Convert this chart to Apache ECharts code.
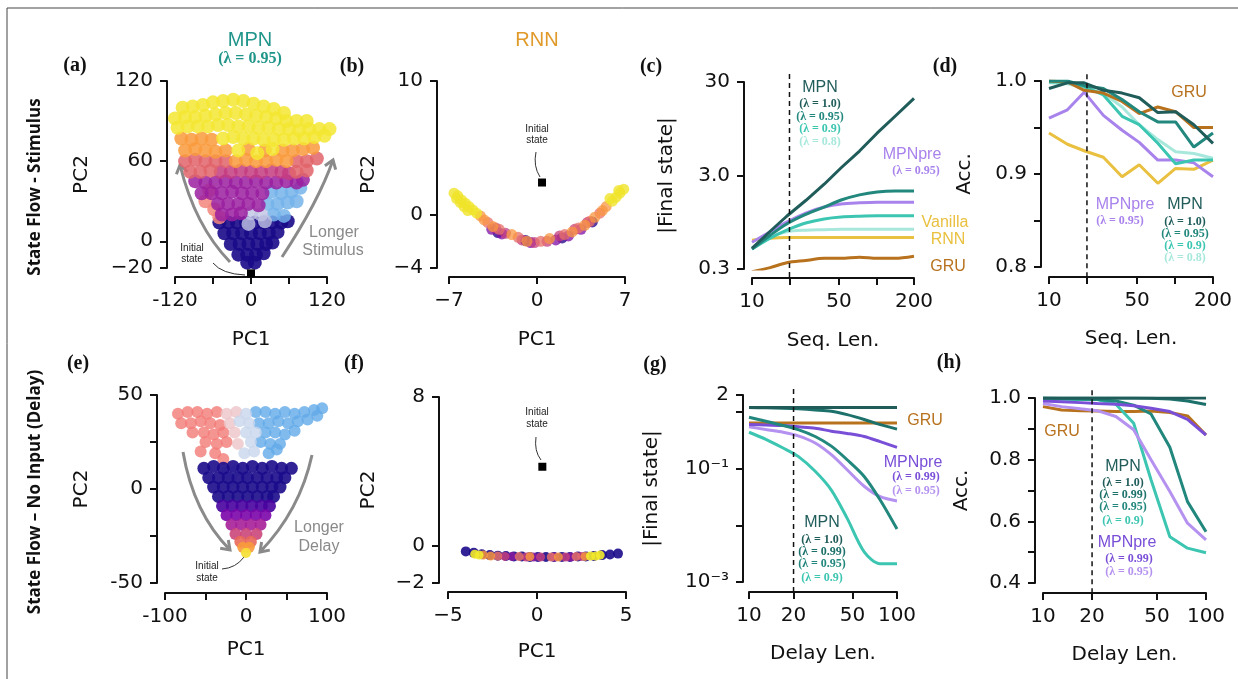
<!DOCTYPE html>
<html>
<head>
<meta charset="utf-8">
<script src="https://cdn.jsdelivr.net/npm/echarts@6/dist/echarts.min.js"></script>
<style>
  html, body { margin: 0; background: #fff; }
  #chart { width: 1238px; height: 679px; }
</style>
</head>
<body>
<div id="chart"></div>
<script>
// *data: (a) MPN state flow with stimulus, points grouped by colour band
const aNavy = [[-50,14],[-36,14],[-22,14],[-8,14],[6,14],[20,14],[34,14],[48,14],[58,15],
  [-42,6],[-28,6],[-14,6],[0,6],[14,6],[28,6],[42,7],
  [-32,-2],[-18,-2],[-4,-2],[10,-2],[24,-2],[34,-1],
  [-20,-10],[-6,-10],[8,-10],[20,-9],[-6,-16],[6,-16]];
const aBlue = [[32,37],[48,36],[64,37],[78,40],[26,28],[42,28],[58,29],[72,30],[36,20],[52,19]];
const aPale = [[0,21],[16,20],[-4,13],[22,15]];
const aSalmon = [[-72,30],[-58,24],[-50,18],[-66,38]];
const aPurple = [[-88,45],[-72,44],[-56,44],[-40,45],[-24,44],[-8,44],[8,45],[24,44],[40,44],[56,45],[72,44],[82,46],
  [-78,36],[-62,36],[-46,36],[-30,37],[-14,36],[2,36],[18,36],
  [-52,28],[-36,28],[-20,28],[-4,28],[12,27],[-46,20],[-30,20],[-16,21]];
const aMagenta = [[-48,52],[-32,52],[-16,53],[0,52],[16,52],[32,53],[48,52],[60,51]];
const aPink = [[-104,60],[-88,61],[-72,60],[-56,60],[-40,60],[72,60],[88,60],[104,62],[-96,52],[-80,52],[-64,53],[72,52],[88,53]];
const aOrange = [[-110,77],[-94,76],[-78,77],[-62,76],
  [-104,68],[-88,69],[-72,68],[-56,67],[-40,68],[-4,69],[22,68],[50,68],[66,68],[82,69],[98,70],
  [-24,60],[-8,61],[8,60],[24,60],[40,61],[56,60]];
const aYellow = [[-108,100],[-92,101],[-76,102],[-60,104],[-44,105],[-28,106],[-12,105],[4,103],[20,101],[36,99],[52,96],
  [-120,92],[-104,93],[-88,93],[-72,94],[-56,95],[-40,96],[-24,96],[-8,95],[8,94],[24,93],[40,92],[56,90],[72,90],[88,90],
  [-116,85],[-100,86],[-84,86],[-68,86],[-52,87],[-36,87],[-20,86],[-4,86],[12,85],[28,85],[44,84],[60,84],[76,83],[92,84],[108,84],[124,84],
  [-44,77],[-28,78],[-12,77],[4,77],[20,76],[36,76],[52,76],[68,77],[84,77],[100,78],[116,79],
  [-20,68],[10,66],[34,69]];
const aInit = [[0,-24]];

// *data: (b) vanilla RNN
const bYellow = [[-6.6,1.6],[-6.3,1.4],[-6.0,1.1],[-5.7,0.85],[-5.4,0.6],[-5.1,0.35],[-4.8,0.1],[-6.4,1.2],[-6.1,0.9],[-5.8,0.6],[-5.5,0.3],
  [6.9,1.9],[6.6,1.6],[6.3,1.3],[6.0,1.0],[5.8,1.2],[6.5,1.8]];
const bOrange = [[-4.5,-0.1],[-4.2,-0.4],[-3.5,-0.9],[-2.0,-1.5],[-0.8,-2.0],[1.0,-1.8],[2.8,-1.3],[3.8,-0.8],[4.6,-0.2],[5.2,0.3],[5.5,0.6]];
const bSalmon = [[-3.9,-0.6],[-3.0,-1.1],[-1.5,-1.7],[0.3,-2.0],[2.2,-1.5],[3.3,-1.0],[4.2,-0.5],[5.0,0.1]];
const bMagenta = [[-3.3,-1.0],[-2.5,-1.4],[-1.2,-1.9],[-0.2,-2.1],[0.8,-2.0],[1.8,-1.6],[3.0,-1.1],[4.0,-0.6]];
const bPurple = [[-3.6,-1.1],[-2.8,-1.45],[-0.5,-2.1],[1.5,-1.9],[2.5,-1.6],[3.5,-1.1]];
const bNavy = [[-3.1,-1.35],[-0.9,-1.95],[2.0,-1.75],[4.4,-0.55]];
const bInit = [[0.4,2.4]];

// *data: (c) |final state| vs sequence length
const seqLen = [10, 14, 19, 27, 38, 52, 73, 101, 141, 200];
const cMpn10 = [0.50, 0.76, 1.10, 1.62, 2.42, 3.63, 5.48, 8.5, 12.9, 20];
const cMpn095 = [0.49, 0.69, 0.91, 1.15, 1.38, 1.64, 1.86, 2.0, 2.05, 2.05];
const cMpn09 = [0.49, 0.64, 0.78, 0.93, 1.03, 1.08, 1.10, 1.11, 1.11, 1.11];
const cMpn08 = [0.50, 0.66, 0.75, 0.78, 0.79, 0.80, 0.80, 0.80, 0.80, 0.80];
const cPre095 = [0.58, 0.75, 0.95, 1.19, 1.38, 1.49, 1.53, 1.55, 1.55, 1.55];
const cVanilla = [0.61, 0.64, 0.65, 0.65, 0.65, 0.65, 0.65, 0.65, 0.65, 0.65];
const cGru = [0.28, 0.31, 0.35, 0.37, 0.39, 0.39, 0.40, 0.39, 0.39, 0.41];

// *data: (d) accuracy vs sequence length
const dGru = [1.0, 0.999, 0.99, 0.987, 0.978, 0.965, 0.972, 0.967, 0.95, 0.95];
const dMpn10 = [0.992, 0.998, 0.998, 0.990, 0.987, 0.982, 0.966, 0.967, 0.953, 0.933];
const dMpn095 = [1.0, 1.0, 0.995, 0.992, 0.980, 0.967, 0.956, 0.956, 0.929, 0.944];
const dMpn09 = [0.999, 0.999, 0.994, 0.985, 0.962, 0.953, 0.933, 0.911, 0.915, 0.915];
const dMpn08 = [0.998, 0.997, 0.993, 0.987, 0.972, 0.953, 0.937, 0.924, 0.922, 0.917];
const dPre095 = [0.960, 0.969, 0.988, 0.963, 0.947, 0.934, 0.915, 0.915, 0.912, 0.897];
const dVanilla = [0.944, 0.932, 0.925, 0.918, 0.897, 0.910, 0.890, 0.906, 0.905, 0.915];

// *data: (e) MPN state flow without input
const eSalmon = [[-84,40],[-72,41],[-60,41],[-48,40],[-36,41],[-80,35],[-68,35],[-56,36],[-44,35],[-32,34],
  [-66,30],[-52,30],[-40,29],[-28,30],[-56,20],[-50,25],[-36,24],[-24,25],[-38,19],[-28,16]];
const ePalePink = [[-24,40],[-12,41],[-20,35],[-14,30],[-10,24]];
const ePaleBlue = [[0,40],[-8,36],[4,35],[0,30],[12,30],[6,25],[-2,19],[10,20],[-24,9],[-12,10],[0,7],[-18,5]];
const eBlue = [[12,41],[24,41],[36,40],[48,41],[60,40],[72,41],[84,42],[94,43],[88,39],
  [16,35],[28,35],[40,36],[52,35],[64,36],[76,37],[24,30],[36,30],[48,29],[60,31],[18,25],[30,24],[42,24],[28,19],[38,21]];
const eNavy = [[-52,11],[-40,12],[-28,11],[-16,12],[-4,11],[8,12],[20,11],[32,12],[44,11],[56,11],
  [-46,6],[-34,6],[-22,6],[-10,6],[2,6],[14,6],[26,6],[38,6],[48,6],
  [-40,1],[-28,1],[-16,1],[-4,1],[8,1],[20,1],[32,1],[42,1],
  [-34,-4],[-22,-4],[-10,-4],[2,-4],[14,-4],[26,-4],[34,-4]];
const eIndigo = [[-29,-9],[-17,-9],[-5,-9],[7,-9],[19,-9],[29,-9]];
const ePurple = [[-24,-14],[-12,-14],[0,-14],[12,-14],[24,-14]];
const eViolet = [[-18,-19],[-6,-19],[6,-19],[18,-19]];
const eMagenta = [[-13,-24],[0,-24],[13,-24]];
const eRed = [[-7,-28],[6,-28]];
const eOrange = [[-4,-31],[4,-31]];
const eYellow = [[0,-34]];

// *data: (f) vanilla RNN without input
const fNavy = [[-4.0,-0.3],[-3.55,-0.38],[-3.1,-0.45],[-2.65,-0.5],[-2.2,-0.53],[-1.75,-0.55],[-1.3,-0.57],[-0.85,-0.58],[-0.4,-0.6],[0.05,-0.6],
  [0.5,-0.6],[0.95,-0.6],[1.4,-0.6],[1.85,-0.6],[2.3,-0.58],[2.75,-0.57],[3.2,-0.55],[3.65,-0.5],[4.1,-0.47],[4.55,-0.42]];
const fYellow = [[-3.5,-0.45],[-3.25,-0.5],[3.0,-0.55],[3.3,-0.55],[3.55,-0.5]];
const fOrange = [[-3.0,-0.5],[-2.6,-0.55],[-0.4,-0.58],[1.2,-0.6],[2.7,-0.57]];
const fSalmon = [[-2.2,-0.55],[-1.0,-0.58],[0.8,-0.6],[2.2,-0.58]];
const fMagenta = [[-1.8,-0.57],[-0.6,-0.6],[0.2,-0.6],[1.6,-0.6],[2.5,-0.57]];
const fPurple = [[-1.4,-0.58],[-0.2,-0.6],[1.0,-0.6],[1.9,-0.6]];
const fInit = [[0.3,4.25]];

// *data: (g) |final state| vs delay length
const delayLen = [10, 13, 17, 21.5, 28, 36, 46, 60, 77, 100];
const gMpn10 = [1.2, 1.2, 1.2, 1.2, 1.2, 1.2, 1.2, 1.2, 1.2, 1.2];
const gMpn099 = [1.2, 1.19, 1.17, 1.14, 1.09, 1.03, 0.90, 0.74, 0.60, 0.50];
const gMpn095 = [0.81, 0.69, 0.58, 0.49, 0.37, 0.25, 0.144, 0.073, 0.028, 0.0086];
const gMpn09 = [0.44, 0.33, 0.232, 0.165, 0.09, 0.042, 0.0134, 0.0034, 0.0021, 0.0021];
const gPre099 = [0.60, 0.59, 0.58, 0.55, 0.52, 0.46, 0.42, 0.37, 0.30, 0.238];
const gPre095 = [0.55, 0.49, 0.44, 0.38, 0.285, 0.177, 0.096, 0.049, 0.032, 0.027];
const gGru = [0.64, 0.64, 0.64, 0.64, 0.64, 0.64, 0.64, 0.64, 0.64, 0.64];

// *data: (h) accuracy vs delay length
const hMpn10 = [1.0, 1.0, 1.0, 1.0, 1.0, 1.0, 1.0, 1.0, 1.0, 1.0];
const hMpn099 = [1.0, 1.0, 1.0, 1.0, 1.0, 1.0, 0.999, 0.997, 0.99, 0.979];
const hMpn095 = [1.0, 0.998, 0.997, 0.995, 0.99, 0.977, 0.948, 0.84, 0.664, 0.566];
const hMpn09 = [0.997, 0.996, 0.995, 0.995, 0.98, 0.918, 0.735, 0.55, 0.513, 0.498];
const hPre099 = [0.99, 0.988, 0.985, 0.982, 0.98, 0.975, 0.967, 0.956, 0.931, 0.88];
const hPre095 = [0.982, 0.972, 0.965, 0.959, 0.94, 0.897, 0.80, 0.697, 0.594, 0.54];
const hGru = [0.972, 0.961, 0.959, 0.958, 0.956, 0.956, 0.958, 0.953, 0.942, 0.88];

// *tick values and labels
const aXTicks = [-120, -60, 0, 60, 120], aXLabels = [-120, 0, 120], aXText = ['-120', '0', '120'];
const aYTicks = [-20, 0, 60, 120], aYText = ['\u221220', '0', '60', '120'];
const bXTicks = [-7, 0, 7], bXText = ['\u22127', '0', '7'];
const bYTicks = [-4, 0, 10], bYText = ['\u22124', '0', '10'];
const seqTicks = [10, 20, 50, 100, 200], seqLabels = [10, 50, 200], seqText = ['10', '50', '200'];
const cYTicks = [0.3, 3, 30], cYText = ['0.3', '3.0', '30'];
const dYTicks = [0.8, 0.85, 0.9, 0.95, 1.0], dYLabels = [0.8, 0.9, 1.0], dYText = ['0.8', '0.9', '1.0'];
const eXTicks = [-100, -50, 0, 50, 100], eXLabels = [-100, 0, 100], eXText = ['-100', '0', '100'];
const eYTicks = [-50, -25, 0, 25, 50], eYLabels = [-50, 0, 50], eYText = ['-50', '0', '50'];
const fXTicks = [-5, 0, 5], fXText = ['\u22125', '0', '5'];
const fYTicks = [-2, 0, 8], fYText = ['\u22122', '0', '8'];
const delayTicks = [10, 20, 50, 100], delayText = ['10', '20', '50', '100'];
const gYTicks = [0.001, 0.01, 0.1, 1, 2], gYLabels = [0.001, 0.1, 2], gYText = ['10\u207B\u00B3', '10\u207B\u00B9', '2'];
const hYTicks = [0.4, 0.5, 0.6, 0.7, 0.8, 0.9, 1.0], hYLabels = [0.4, 0.6, 0.8, 1.0], hYText = ['0.4', '0.6', '0.8', '1.0'];

const C = {
  mpn10: '#1f5c5a', mpn099: '#1d716b', mpn095: '#22877d', mpn09: '#3cc6b2', mpn08: '#a8e8dc',
  pre095: '#a983ec', pre099: '#7a4fd8', preLight: '#b592f0', vanilla: '#e9c03f', gru: '#b8721e'
};
const AX = '#111';
const TICKF = 'DejaVu Sans';
const SANS = 'Liberation Sans';
const SERIF = 'Liberation Serif';

function pick(vals, texts) {
  return v => {
    let best = 0;
    for (let i = 1; i < vals.length; i++) {
      const d = Math.abs(v - vals[i]) / Math.max(Math.abs(vals[i]), 1e-9);
      const db = Math.abs(v - vals[best]) / Math.max(Math.abs(vals[best]), 1e-9);
      if (d < db) best = i;
    }
    return texts[best];
  };
}

function axis(gi, o) {
  return {
    gridIndex: gi,
    type: o.type || 'value',
    min: o.min, max: o.max,
    offset: o.offset,
    name: o.name, nameLocation: 'middle', nameGap: o.nameGap,
    nameTextStyle: { fontSize: 20, color: AX, fontFamily: TICKF },
    axisLine: { show: true, onZero: false, lineStyle: { color: AX, width: 2 } },
    axisTick: { show: true, length: 7, lineStyle: { color: AX, width: 2 }, customValues: o.ticks },
    axisLabel: {
      fontSize: 20, color: AX, fontFamily: TICKF, margin: o.margin || 14,
      customValues: o.labels || o.ticks, formatter: pick(o.labels || o.ticks, o.text)
    },
    splitLine: { show: false }
  };
}

const grid = [
  { left: 175, top: 81, width: 152, height: 187 },
  { left: 449, top: 81, width: 176, height: 187 },
  { left: 752, top: 82, width: 162, height: 187 },
  { left: 1049, top: 81, width: 164, height: 186 },
  { left: 165, top: 395, width: 162, height: 188 },
  { left: 448, top: 397, width: 178, height: 186 },
  { left: 749, top: 395, width: 148, height: 187 },
  { left: 1043, top: 398, width: 163, height: 185 }
];

const xAxis = [
  axis(0, { min: -120, max: 120, offset: 9, ticks: aXTicks, labels: aXLabels, text: aXText, name: 'PC1', nameGap: 53 }),
  axis(1, { min: -7, max: 7, offset: 9, ticks: bXTicks, text: bXText, name: 'PC1', nameGap: 53 }),
  axis(2, { type: 'log', min: 10, max: 200, offset: 9, ticks: seqTicks, labels: seqLabels, text: seqText, name: 'Seq. Len.', nameGap: 53 }),
  axis(3, { type: 'log', min: 10, max: 200, offset: 10, ticks: seqTicks, labels: seqLabels, text: seqText, name: 'Seq. Len.', nameGap: 52 }),
  axis(4, { min: -100, max: 100, offset: 10, ticks: eXTicks, labels: eXLabels, text: eXText, name: 'PC1', nameGap: 47 }),
  axis(5, { min: -5, max: 5, offset: 9, ticks: fXTicks, text: fXText, name: 'PC1', nameGap: 50 }),
  axis(6, { type: 'log', min: 10, max: 100, offset: 10, ticks: delayTicks, text: delayText, name: 'Delay Len.', nameGap: 52 }),
  axis(7, { type: 'log', min: 10, max: 100, offset: 10, ticks: delayTicks, text: delayText, name: 'Delay Len.', nameGap: 52 })
];

const yAxis = [
  axis(0, { min: -20, max: 120, offset: 8, ticks: aYTicks, text: aYText, name: 'PC2', nameGap: 75 }),
  axis(1, { min: -4, max: 10, offset: 12, ticks: bYTicks, text: bYText, name: 'PC2', nameGap: 58 }),
  axis(2, { type: 'log', min: 0.3, max: 30, offset: 8, ticks: cYTicks, text: cYText, name: '|Final state|', nameGap: 67 }),
  axis(3, { min: 0.8, max: 1.0, offset: 8, ticks: dYTicks, labels: dYLabels, text: dYText, name: 'Acc.', nameGap: 66 }),
  axis(4, { min: -50, max: 50, offset: 8, ticks: eYTicks, labels: eYLabels, text: eYText, name: 'PC2', nameGap: 65 }),
  axis(5, { min: -2, max: 8, offset: 9, ticks: fYTicks, text: fYText, name: 'PC2', nameGap: 60 }),
  axis(6, { type: 'log', min: 0.001, max: 2, offset: 6, ticks: gYTicks, labels: gYLabels, text: gYText, name: '|Final state|', nameGap: 81 }),
  axis(7, { min: 0.4, max: 1.0, offset: 8, ticks: hYTicks, labels: hYLabels, text: hYText, name: 'Acc.', nameGap: 63 })
];

function sc(gi, data, color, size, op, sym) {
  return {
    type: 'scatter', xAxisIndex: gi, yAxisIndex: gi, data, symbol: sym || 'circle', symbolSize: size,
    itemStyle: { color, opacity: op }, silent: true, clip: false
  };
}
function ln(gi, xs, ys, color, smooth) {
  return {
    type: 'line', xAxisIndex: gi, yAxisIndex: gi, data: xs.map((x, i) => [x, ys[i]]),
    showSymbol: false, symbol: 'none', smooth: smooth ? 0.3 : false,
    lineStyle: { color, width: 3 }, itemStyle: { color }, silent: true
  };
}
function dash(gi, lo, hi) {
  return {
    type: 'line', xAxisIndex: gi, yAxisIndex: gi, data: [[20, lo], [20, hi]], showSymbol: false, symbol: 'none',
    clip: false, lineStyle: { color: '#111', width: 1.5, type: [5, 4] }, silent: true, z: 5
  };
}

const series = [
  // (a)
  sc(0, aNavy, '#1a0a88', 14, 0.9), sc(0, aBlue, '#74b3ea', 14, 0.85), sc(0, aPale, '#c0c4e4', 14, 0.8),
  sc(0, aSalmon, '#f2857a', 14, 0.85), sc(0, aPurple, '#9a1ea0', 14, 0.85), sc(0, aMagenta, '#c43c80', 14, 0.85),
  sc(0, aPink, '#e0646a', 14, 0.85), sc(0, aOrange, '#f99a3c', 14, 0.85), sc(0, aYellow, '#f3e630', 14, 0.85),
  sc(0, aInit, '#000', 8, 1, 'rect'),
  // (b)
  sc(1, bNavy, '#2c0a8f', 11, 0.8), sc(1, bPurple, '#7d0ea6', 11, 0.75), sc(1, bMagenta, '#c43e7f', 11, 0.75),
  sc(1, bSalmon, '#e8706a', 11, 0.75), sc(1, bOrange, '#f89540', 11, 0.75), sc(1, bYellow, '#f0e42a', 11, 0.8),
  sc(1, bInit, '#000', 8, 1, 'rect'),
  // (c)
  dash(2, 0.246, 37),
  ln(2, seqLen, cGru, C.gru, true), ln(2, seqLen, cVanilla, C.vanilla, true), ln(2, seqLen, cMpn08, C.mpn08, true),
  ln(2, seqLen, cMpn09, C.mpn09, true), ln(2, seqLen, cPre095, C.pre095, true), ln(2, seqLen, cMpn095, C.mpn095, true),
  ln(2, seqLen, cMpn10, C.mpn10, false),
  // (d)
  dash(3, 0.789, 1.0086),
  ln(3, seqLen, dVanilla, C.vanilla), ln(3, seqLen, dPre095, C.pre095), ln(3, seqLen, dMpn08, C.mpn08),
  ln(3, seqLen, dMpn09, C.mpn09), ln(3, seqLen, dGru, C.gru), ln(3, seqLen, dMpn095, C.mpn095), ln(3, seqLen, dMpn10, C.mpn10),
  // (e)
  sc(4, eSalmon, '#f37b77', 12, 0.8), sc(4, ePalePink, '#ecc4c8', 12, 0.8), sc(4, eBlue, '#62aae8', 12, 0.8),
  sc(4, ePaleBlue, '#c8d6ec', 12, 0.8),
  sc(4, eNavy, '#1b0b8b', 13, 0.9), sc(4, eIndigo, '#48029e', 13, 0.9), sc(4, ePurple, '#7a04a8', 12, 0.9),
  sc(4, eViolet, '#a62098', 12, 0.9), sc(4, eMagenta, '#cb4679', 12, 0.9), sc(4, eRed, '#e8685a', 12, 0.9),
  sc(4, eOrange, '#f89a3c', 11, 0.9), sc(4, eYellow, '#f6e03a', 10, 0.95),
  // (f)
  sc(5, fNavy, '#1b0b8b', 10, 0.9), sc(5, fPurple, '#8a1aa0', 9, 0.85), sc(5, fMagenta, '#c43e7f', 9, 0.85),
  sc(5, fSalmon, '#e8706a', 9, 0.85), sc(5, fOrange, '#f89540', 9, 0.85), sc(5, fYellow, '#f3ea2a', 9, 0.9),
  sc(5, fInit, '#000', 8, 1, 'rect'),
  // (g)
  dash(6, 0.000665, 2.71),
  ln(6, delayLen, gGru, C.gru, true), ln(6, delayLen, gMpn09, C.mpn09, true), ln(6, delayLen, gPre095, C.preLight, true),
  ln(6, delayLen, gPre099, C.pre099, true), ln(6, delayLen, gMpn095, C.mpn095, true), ln(6, delayLen, gMpn099, C.mpn099, true),
  ln(6, delayLen, gMpn10, C.mpn10, true),
  // (h)
  dash(7, 0.367, 1.032),
  ln(7, delayLen, hGru, C.gru), ln(7, delayLen, hMpn09, C.mpn09), ln(7, delayLen, hPre095, C.preLight),
  ln(7, delayLen, hMpn095, C.mpn095), ln(7, delayLen, hPre099, C.pre099), ln(7, delayLen, hMpn099, C.mpn099),
  ln(7, delayLen, hMpn10, C.mpn10)
];

// *text and annotation helpers
function T(x, y, text, size, fill, family, weight, rot) {
  const el = {
    type: 'text', x, y, silent: true,
    style: {
      text, x: 0, y: 0, fill, fontSize: size, fontFamily: family, fontWeight: weight || 'normal',
      align: 'center', verticalAlign: 'middle', textAlign: 'center', textVerticalAlign: 'middle'
    }
  };
  if (rot) el.rotation = rot;
  return el;
}
const lam = (x, y, text, fill) => T(x, y, text, 12, fill, SERIF, 'bold');
function curve(x1, y1, cx, cy, x2, y2, stroke, w) {
  return { type: 'bezierCurve', silent: true, shape: { x1, y1, x2, y2, cpx1: cx, cpy1: cy }, style: { stroke, lineWidth: w, fill: null } };
}
function head(pts, stroke) {
  return { type: 'polyline', silent: true, shape: { points: pts }, style: { stroke, lineWidth: 3, fill: null } };
}
const GRAY = '#8a8a8a';

const graphic = [
  { type: 'line', silent: true, shape: { x1: 7, y1: 8, x2: 1238, y2: 8 }, style: { stroke: '#444', lineWidth: 1 } },
  { type: 'line', silent: true, shape: { x1: 7, y1: 8, x2: 7, y2: 679 }, style: { stroke: '#444', lineWidth: 1 } },
  // row labels
  T(35, 187, 'State Flow - Stimulus', 17, '#111', 'Open Sans', 'bold', Math.PI / 2),
  T(35, 492, 'State Flow \u2013 No Input (Delay)', 17, '#111', 'Open Sans', 'bold', Math.PI / 2),
  // panel letters
  T(75, 66, '(a)', 20, '#111', SERIF, 'bold'), T(352, 67, '(b)', 20, '#111', SERIF, 'bold'),
  T(651, 67, '(c)', 20, '#111', SERIF, 'bold'), T(945, 67, '(d)', 20, '#111', SERIF, 'bold'),
  T(78, 364, '(e)', 20, '#111', SERIF, 'bold'), T(354, 364, '(f)', 20, '#111', SERIF, 'bold'),
  T(655, 365, '(g)', 20, '#111', SERIF, 'bold'), T(949, 363, '(h)', 20, '#111', SERIF, 'bold'),
  // titles
  T(250, 40, 'MPN', 20, '#20958a', SANS), T(250, 59, '(\u03bb = 0.95)', 16, '#20958a', SERIF, 'bold'),
  T(537, 40, 'RNN', 20, '#e09a2a', SANS),
  // (a) arrows and notes
  curve(230, 262, 195, 226, 180, 165, GRAY, 3), head([[176.4, 174.3], [180, 165], [187.5, 171.6]], GRAY),
  curve(282, 257, 318.5, 201.5, 333, 160, GRAY, 3), head([[324.9, 165.8], [333, 160], [335.7, 169.6]], GRAY),
  T(334, 233, 'Longer', 16, GRAY, SANS), T(333, 251, 'Stimulus', 16, GRAY, SANS),
  T(192, 248, 'Initial', 10, '#222', SANS), T(192, 259, 'state', 10, '#222', SANS),
  curve(213, 263, 222, 274, 245, 275, '#333', 1),
  // (b) note
  T(537, 129, 'Initial', 10, '#222', SANS), T(537, 140, 'state', 10, '#222', SANS),
  curve(536, 152, 533, 166, 540, 177, '#333', 1),
  // (c) annotations
  T(820, 88, 'MPN', 16, C.mpn10, SANS),
  lam(820, 104, '(\u03bb = 1.0)', C.mpn10), lam(820, 117, '(\u03bb = 0.95)', C.mpn095),
  lam(820, 129, '(\u03bb = 0.9)', C.mpn09), lam(820, 142, '(\u03bb = 0.8)', C.mpn08),
  T(912, 155, 'MPNpre', 16, C.pre095, SANS), lam(916, 171, '(\u03bb = 0.95)', C.pre095),
  T(945, 223, 'Vanilla', 16, C.vanilla, SANS), T(948, 240, 'RNN', 16, C.vanilla, SANS),
  T(948, 267, 'GRU', 16, C.gru, SANS),
  // (d) annotations
  T(1189, 93, 'GRU', 16, C.gru, SANS),
  T(1125, 205, 'MPNpre', 16, C.pre095, SANS), lam(1120, 221, '(\u03bb = 0.95)', C.pre095),
  T(1185, 205, 'MPN', 16, C.mpn10, SANS),
  lam(1185, 222, '(\u03bb = 1.0)', C.mpn10), lam(1185, 234, '(\u03bb = 0.95)', C.mpn095),
  lam(1185, 246, '(\u03bb = 0.9)', C.mpn09), lam(1185, 258, '(\u03bb = 0.8)', C.mpn08),
  // (e) arrows and notes
  curve(183, 452, 193.5, 513, 230, 550, GRAY, 3), head([[228.3, 540.1], [230, 550], [220.2, 548.2]], GRAY),
  curve(312, 455, 300, 510.5, 260, 552, GRAY, 3), head([[269.8, 550.1], [260, 552], [261.6, 542.1]], GRAY),
  T(319, 528, 'Longer', 16, GRAY, SANS), T(319, 547, 'Delay', 16, GRAY, SANS),
  T(207, 566, 'Initial', 10, '#222', SANS), T(207, 578, 'state', 10, '#222', SANS),
  curve(222, 569, 236, 568, 244, 557, '#333', 1),
  // (f) note
  T(537, 412, 'Initial', 10, '#222', SANS), T(537, 424, 'state', 10, '#222', SANS),
  curve(536, 437, 534, 451, 541, 460, '#333', 1),
  // (g) annotations
  T(925, 421, 'GRU', 16, C.gru, SANS),
  T(913, 463, 'MPNpre', 16, C.pre099, SANS), lam(916, 477, '(\u03bb = 0.99)', C.pre099), lam(916, 491, '(\u03bb = 0.95)', C.preLight),
  T(822, 523, 'MPN', 16, C.mpn10, SANS),
  lam(822, 540, '(\u03bb = 1.0)', C.mpn10), lam(822, 552, '(\u03bb = 0.99)', C.mpn099),
  lam(822, 564, '(\u03bb = 0.95)', C.mpn095), lam(822, 578, '(\u03bb = 0.9)', C.mpn09),
  // (h) annotations
  T(1062, 432, 'GRU', 16, C.gru, SANS),
  T(1123, 467, 'MPN', 16, C.mpn10, SANS),
  lam(1123, 483, '(\u03bb = 1.0)', C.mpn10), lam(1123, 495, '(\u03bb = 0.99)', C.mpn099),
  lam(1123, 507, '(\u03bb = 0.95)', C.mpn095), lam(1123, 521, '(\u03bb = 0.9)', C.mpn09),
  T(1127, 543, 'MPNpre', 16, C.pre099, SANS),
  lam(1129, 559, '(\u03bb = 0.99)', C.pre099), lam(1129, 572, '(\u03bb = 0.95)', C.preLight)
];

const chart = echarts.init(document.getElementById('chart'));
chart.setOption({
  animation: false,
  backgroundColor: '#fff',
  grid, xAxis, yAxis, series, graphic
});
</script>
</body>
</html>
